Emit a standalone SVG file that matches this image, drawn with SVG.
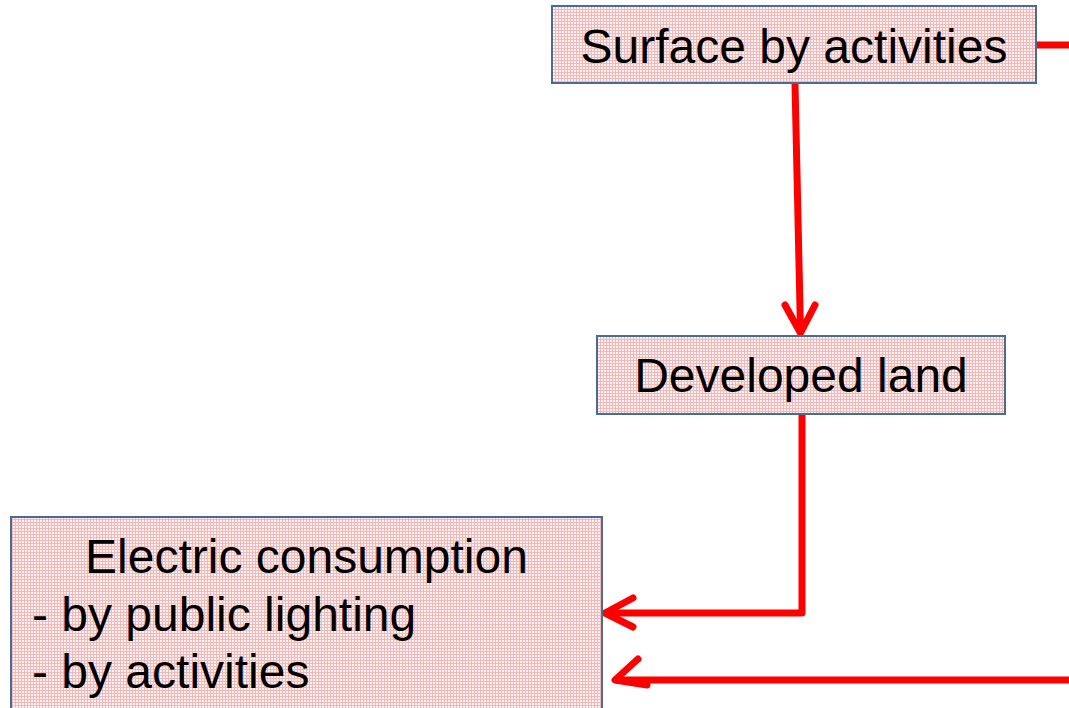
<svg xmlns="http://www.w3.org/2000/svg" width="1069" height="708" viewBox="0 0 1069 708">
<style>
.box{fill:url(#dots);stroke:#4a6a98;stroke-width:2}
.t{font-family:"Liberation Sans",Arial,sans-serif;font-size:48px;fill:#000}
.c{fill:none;stroke:#ff0000;stroke-width:7;stroke-linecap:round;stroke-linejoin:round}
</style>
<defs>
<pattern id="dots" width="3" height="3" patternUnits="userSpaceOnUse">
<rect width="3" height="3" fill="#fdf2f2"/>
<rect x="0" y="0" width="1" height="3" fill="#f5b8b8"/>
<rect x="0" y="0" width="3" height="1" fill="#f5b8b8"/>
</pattern>
</defs>
<rect width="1069" height="708" fill="#ffffff"/>
<g id="connectors">
<path class="c" d="M1036,45 L1072,45"/>
<path class="c" d="M795,84 L800.5,331"/>
<path class="c" d="M785,305 L800.5,333 L815,305"/>
<path class="c" d="M802,414 L802,613 L606,613"/>
<path class="c" d="M633,598 L605,613 L633,627"/>
<path class="c" d="M1072,680 L617,680"/>
<path class="c" d="M638,659 L615,680 L647,685"/>
</g>
<g id="surface">
<rect class="box" x="552" y="6" width="484" height="77"/>
<text class="t" x="794" y="63" text-anchor="middle">Surface by activities</text>
</g>
<g id="developed">
<rect class="box" x="597" y="336" width="408" height="78"/>
<text class="t" x="801" y="392" text-anchor="middle">Developed land</text>
</g>
<g id="electric">
<rect class="box" x="11" y="517" width="591" height="210"/>
<text class="t" x="306.5" y="573" text-anchor="middle">Electric consumption</text>
<text class="t" x="32" y="631">- by public lighting</text>
<text class="t" x="32" y="688">- by activities</text>
</g>
</svg>
